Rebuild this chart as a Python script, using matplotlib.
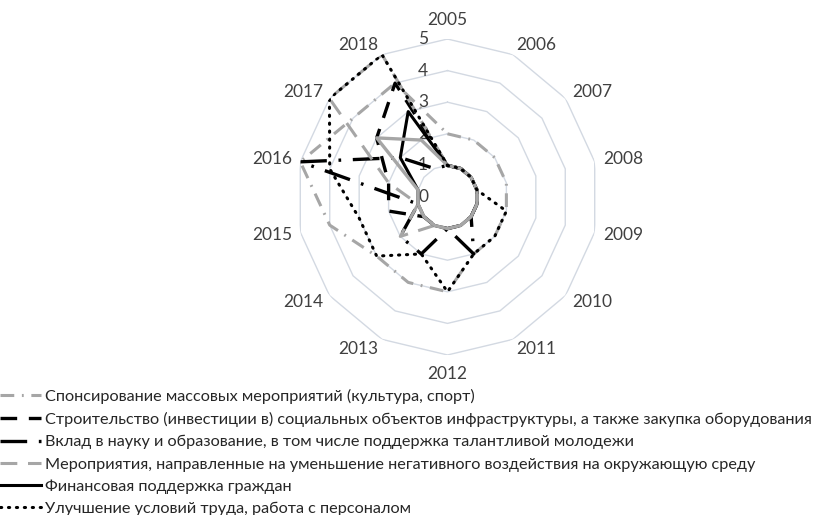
#!/usr/bin/env python3

import numpy as np
import matplotlib
matplotlib.use("Agg")
import matplotlib.pyplot as plt
from matplotlib.lines import Line2D


FIGURE_WIDTH_PX = 814
FIGURE_HEIGHT_PX = 515
FIGURE_DPI = 100

YEARS = ["2005", "2006", "2007", "2008", "2009", "2010", "2011",
         "2012", "2013", "2014", "2015", "2016", "2017", "2018"]
RADIAL_TICKS = [0, 1, 2, 3, 4, 5]

# values per year, 2005 .. 2018
SPONSORSHIP = [2, 2, 2, 2, 2, 2, 2, 3, 3, 3, 4, 5, 4, 4]
CONSTRUCTION = [1, 1, 1, 1, 1, 1, 1, 1, 1, 1, 2, 2, 3, 4]
SCIENCE = [1, 1, 1, 1, 1, 1, 2, 1, 2, 2, 1, 5, 2, 1]
ENVIRONMENT = [1, 1, 1, 1, 1, 1, 1, 1, 1, 2, 1, 2, 5, 5]
FINANCIAL = [1, 1, 1, 1, 1, 1, 1, 1, 1, 1, 1, 1, 2, 3]
LABOUR = [1, 1, 1, 1, 2, 2, 2, 3, 2, 3, 3, 4, 5, 5]
UNLABELLED = [1, 1, 1, 1, 1, 1, 1, 1, 1, 1, 1, 1, 3, 2]

LABELS = [
    "Спонсирование массовых мероприятий (культура, спорт)",
    "Строительство (инвестиции в) социальных объектов инфраструктуры, а также закупка оборудования",
    "Вклад в науку и образование, в том числе поддержка талантливой молодежи",
    "Мероприятия, направленные на уменьшение негативного воздействия на окружающую среду",
    "Финансовая поддержка граждан",
    "Улучшение условий труда, работа с персоналом",
]

GREY = "#a6a6a6"
BLACK = "#000000"
GRID = "#d3d9e2"
TEXT = "#404040"
FONT = ["Lato", "DejaVu Sans"]

STYLES = [
    dict(color=GREY, lw=2.2, dashes=(4.5, 2.5, 0.6, 2.5)),
    dict(color=BLACK, lw=2.4, dashes=(5, 3.5)),
    dict(color=BLACK, lw=2.4, dashes=(8, 3.5, 0.8, 3.5)),
    dict(color=GREY, lw=2.2, dashes=(5.5, 3.5)),
    dict(color=BLACK, lw=2.2),
    dict(color=BLACK, lw=2.2, dashes=(0.4, 2.2), dash_capstyle="round"),
]

plt.rcParams["font.family"] = FONT


def closed(values):
    return list(values) + [values[0]]


def legend_font_size(fig, target_px):
    # scale the legend font so the longest label spans target_px
    renderer = fig.canvas.get_renderer()
    probe = fig.text(0, 0, max(LABELS, key=len), fontsize=10)
    width = probe.get_window_extent(renderer).width
    probe.remove()
    return 10 * target_px / width


def radar(fig):
    cx, cy = 447.5, 197.0
    rx, ry = 151.0, 158.0
    ax = fig.add_axes([
        (cx - rx) / FIGURE_WIDTH_PX,
        1 - (cy + ry) / FIGURE_HEIGHT_PX,
        2 * rx / FIGURE_WIDTH_PX,
        2 * ry / FIGURE_HEIGHT_PX,
    ], projection="polar")
    ax.set_aspect("auto")
    ax.set_theta_zero_location("N")
    ax.set_theta_direction(-1)
    ax.set_ylim(0, 5)
    ax.grid(False)
    ax.spines["polar"].set_visible(False)
    ax.set_xticks([])
    ax.set_yticks([])
    ax.patch.set_alpha(0)

    theta = np.linspace(0, 2 * np.pi, len(YEARS), endpoint=False)
    ring_theta = closed(theta)

    for level in RADIAL_TICKS[1:]:
        ax.plot(ring_theta, [level] * len(ring_theta), color=GRID, lw=1, zorder=1)

    for level in RADIAL_TICKS:
        ax.annotate(str(level), xy=(0, level), xytext=(-14, 0),
                    textcoords="offset points", ha="right", va="center",
                    fontsize=12.5, color=TEXT)

    for angle, year in zip(theta, YEARS):
        s, c = np.sin(angle), np.cos(angle)
        if abs(s) < 0.2:
            ha = "center"
        elif s > 0:
            ha = "left"
        else:
            ha = "right"
        ax.annotate(year, xy=(angle, 5), xytext=(6 * s, 8 * c),
                    textcoords="offset points", ha=ha,
                    va="bottom" if c > 0.95 else ("top" if c < -0.95 else "center"),
                    fontsize=12.5, color=TEXT)

    series = [SPONSORSHIP, CONSTRUCTION, SCIENCE, ENVIRONMENT, FINANCIAL]
    for i, values in enumerate(series):
        ax.plot(ring_theta, closed(values), zorder=3 + i, **STYLES[i])
    ax.plot(ring_theta, closed(UNLABELLED), color=GREY, lw=2.4, zorder=9)
    ax.plot(ring_theta, closed(LABOUR), zorder=10, **STYLES[5])

    size = legend_font_size(fig, 770)
    handles = [Line2D([], [], **style) for style in STYLES]
    fig.legend(handles, LABELS, loc="upper left",
               bbox_to_anchor=(0.0, 1 - 389 / FIGURE_HEIGHT_PX),
               frameon=False, fontsize=size, labelcolor="#262626",
               handlelength=2.5, handletextpad=0.25,
               labelspacing=0.485, borderpad=0, borderaxespad=0)


def main() -> int:
    fig = plt.figure(
        figsize=(FIGURE_WIDTH_PX / FIGURE_DPI, FIGURE_HEIGHT_PX / FIGURE_DPI),
        dpi=FIGURE_DPI,
    )
    radar(fig)
    fig.savefig("out.png", dpi=FIGURE_DPI)
    return 0


if __name__ == "__main__":
    raise SystemExit(main())
